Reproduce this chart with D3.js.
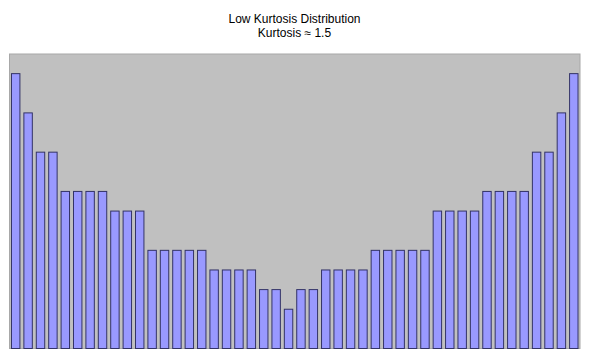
<!DOCTYPE html>
<html><head><meta charset="utf-8">
<script src="https://cdn.jsdelivr.net/npm/d3@7"></script>
<style>body{margin:0;background:#fff}svg{display:block}</style>
</head><body>
<script>
const titleLines = ["Low Kurtosis Distribution", "Kurtosis \u2248 1.5"];
const values = [14,12,10,10,8,8,8,8,7,7,7,5,5,5,5,5,4,4,4,4,3,3,2,3,3,4,4,4,4,5,5,5,5,5,7,7,7,7,8,8,8,8,10,10,12,14];
const categories = values.map((d,i)=>i);
const yMax = 15;

const W=589,H=357;
const m={left:9.5,right:9,top:54,bottom:8.5};
const svg=d3.select("body").append("svg").attr("width",W).attr("height",H);
const x=d3.scaleBand().domain(categories).range([m.left,W-m.right]).paddingInner(0.32).paddingOuter(0.16);
const y=d3.scaleLinear().domain([0,yMax]).range([H-m.bottom,m.top]);

svg.append("rect").attr("x",m.left).attr("y",m.top).attr("width",W-m.right-m.left).attr("height",H-m.bottom-m.top)
  .attr("fill","#c0c0c0").attr("stroke","#a8a8a8").attr("stroke-width",1);

svg.append("g").selectAll("rect").data(values).join("rect")
  .attr("x",(d,i)=>x(i)).attr("width",x.bandwidth())
  .attr("y",d=>y(d)).attr("height",d=>y(0)-y(d))
  .attr("fill","#9999ff").attr("stroke","#333366").attr("stroke-width",1);

svg.append("g").selectAll("text").data(titleLines).join("text")
  .attr("x",W/2).attr("y",(d,i)=>23+i*14).attr("text-anchor","middle")
  .attr("font-family","Liberation Sans, Arial, sans-serif").attr("font-size",12).attr("fill","#000")
  .text(d=>d);
</script>
</body></html>
